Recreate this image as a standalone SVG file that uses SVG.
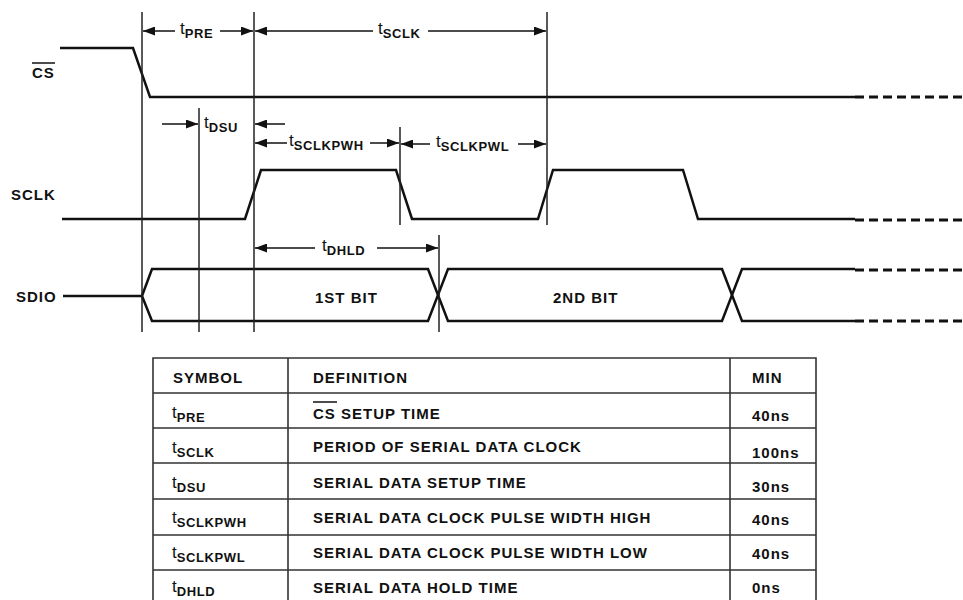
<svg xmlns="http://www.w3.org/2000/svg" width="963" height="600" viewBox="0 0 963 600">
<style>
.bg{fill:#fff}
.sig{fill:none;stroke:#111;stroke-width:2.5;stroke-linejoin:miter}
.dash{fill:none;stroke:#111;stroke-width:3;stroke-dasharray:9 5}
.vl{stroke:#222;stroke-width:1.5}
.ar{stroke:#111;stroke-width:1.5;marker-end:url(#ah)}
.lbl{font-family:"Liberation Sans",Arial,sans-serif;font-weight:bold;font-size:15px;letter-spacing:1px;fill:#111}
.t{font-family:"Liberation Sans",Arial,sans-serif;font-size:17px;fill:#111}
.sub{font-family:"Liberation Sans",Arial,sans-serif;font-weight:bold;font-size:13px;letter-spacing:0.6px;fill:#111}
.tb{fill:none;stroke:#333;stroke-width:1.6}
.ob{stroke:#111;stroke-width:1.5}
</style>
<defs>
<marker id="ah" markerUnits="userSpaceOnUse" markerWidth="13" markerHeight="9" refX="12" refY="4.5" orient="auto">
<path d="M0,0 L12,4.5 L0,9 z" fill="#111"/>
</marker>
</defs>
<rect class="bg" x="0" y="0" width="963" height="600"/>

<g id="labels">
<text class="lbl" x="32" y="78">CS</text>
<line class="ob" x1="32" y1="63" x2="55" y2="63"/>
<text class="lbl" x="11" y="200">SCLK</text>
<text class="lbl" x="16" y="302">SDIO</text>
</g>

<g id="cs">
<polyline class="sig" points="60,48 133,48 150,97 855,97"/>
<line class="dash" x1="855" y1="97" x2="963" y2="97"/>
</g>

<g id="sclk">
<polyline class="sig" points="62,219 245,219 261,170 396,170 412,219 538,219 553,170 683,170 698,219 855,219"/>
<line class="dash" x1="855" y1="220" x2="963" y2="220"/>
</g>

<g id="sdio">
<polyline class="sig" points="63,296 142,296 152,269 428,269 448,321 722,321 742,269 855,269"/>
<polyline class="sig" points="142,296 152,321 428,321 448,269 722,269 742,321 855,321"/>
<line class="dash" x1="855" y1="270" x2="963" y2="270"/>
<line class="dash" x1="855" y1="321" x2="963" y2="321"/>
<text class="lbl" x="315" y="303">1ST BIT</text>
<text class="lbl" x="553" y="303">2ND BIT</text>
</g>

<g id="connectors">
<line class="vl" x1="142" y1="12" x2="142" y2="332"/>
<line class="vl" x1="199" y1="108" x2="199" y2="332"/>
<line class="vl" x1="254" y1="12" x2="254" y2="332"/>
<line class="vl" x1="400" y1="127" x2="400" y2="225"/>
<line class="vl" x1="547" y1="12" x2="547" y2="225"/>
<line class="vl" x1="439" y1="235" x2="439" y2="332"/>

<line class="ar" x1="175" y1="31" x2="143" y2="31"/>
<line class="ar" x1="220" y1="31" x2="253" y2="31"/>
<line class="ar" x1="373" y1="31" x2="255" y2="31"/>
<line class="ar" x1="428" y1="31" x2="546" y2="31"/>

<line class="ar" x1="162" y1="124" x2="198" y2="124"/>
<line class="ar" x1="285" y1="124" x2="255" y2="124"/>

<line class="ar" x1="287" y1="143" x2="255" y2="143"/>
<line class="ar" x1="370" y1="143" x2="399" y2="143"/>
<line class="ar" x1="430" y1="144" x2="401" y2="144"/>
<line class="ar" x1="518" y1="144" x2="546" y2="144"/>

<line class="ar" x1="315" y1="248" x2="255" y2="248"/>
<line class="ar" x1="377" y1="248" x2="438" y2="248"/>
</g>

<g id="timing-labels">
<text x="180" y="34"><tspan class="t">t</tspan><tspan class="sub" dy="4">PRE</tspan></text>
<text x="378" y="34"><tspan class="t">t</tspan><tspan class="sub" dy="4">SCLK</tspan></text>
<text x="204" y="128"><tspan class="t">t</tspan><tspan class="sub" dy="4">DSU</tspan></text>
<text x="289" y="146"><tspan class="t">t</tspan><tspan class="sub" dy="4">SCLKPWH</tspan></text>
<text x="436" y="147"><tspan class="t">t</tspan><tspan class="sub" dy="4">SCLKPWL</tspan></text>
<text x="322" y="251"><tspan class="t">t</tspan><tspan class="sub" dy="4">DHLD</tspan></text>
</g>

<g id="table">
<path class="tb" d="M153,600 V358 H816 V600 M288,358 V600 M730,358 V600 M153,393 H816 M153,428 H816 M153,463 H816 M153,499 H816 M153,535 H816 M153,570 H816"/>
<text class="lbl" x="173" y="383">SYMBOL</text>
<text class="lbl" x="313" y="383">DEFINITION</text>
<text class="lbl" x="752" y="383">MIN</text>

<text x="172" y="418"><tspan class="t">t</tspan><tspan class="sub" dy="4">PRE</tspan></text>
<text class="lbl" x="313" y="419">CS SETUP TIME</text>
<line class="ob" x1="313" y1="402" x2="337" y2="402"/>
<text class="lbl" x="752" y="421">40ns</text>

<text x="172" y="453"><tspan class="t">t</tspan><tspan class="sub" dy="4">SCLK</tspan></text>
<text class="lbl" x="313" y="452">PERIOD OF SERIAL DATA CLOCK</text>
<text class="lbl" x="752" y="458">100ns</text>

<text x="172" y="488"><tspan class="t">t</tspan><tspan class="sub" dy="4">DSU</tspan></text>
<text class="lbl" x="313" y="488">SERIAL DATA SETUP TIME</text>
<text class="lbl" x="752" y="492">30ns</text>

<text x="172" y="523"><tspan class="t">t</tspan><tspan class="sub" dy="4">SCLKPWH</tspan></text>
<text class="lbl" x="313" y="523">SERIAL DATA CLOCK PULSE WIDTH HIGH</text>
<text class="lbl" x="752" y="525">40ns</text>

<text x="172" y="558"><tspan class="t">t</tspan><tspan class="sub" dy="4">SCLKPWL</tspan></text>
<text class="lbl" x="313" y="558">SERIAL DATA CLOCK PULSE WIDTH LOW</text>
<text class="lbl" x="752" y="559">40ns</text>

<text x="172" y="592"><tspan class="t">t</tspan><tspan class="sub" dy="4">DHLD</tspan></text>
<text class="lbl" x="313" y="593">SERIAL DATA HOLD TIME</text>
<text class="lbl" x="752" y="593">0ns</text>
</g>
</svg>
